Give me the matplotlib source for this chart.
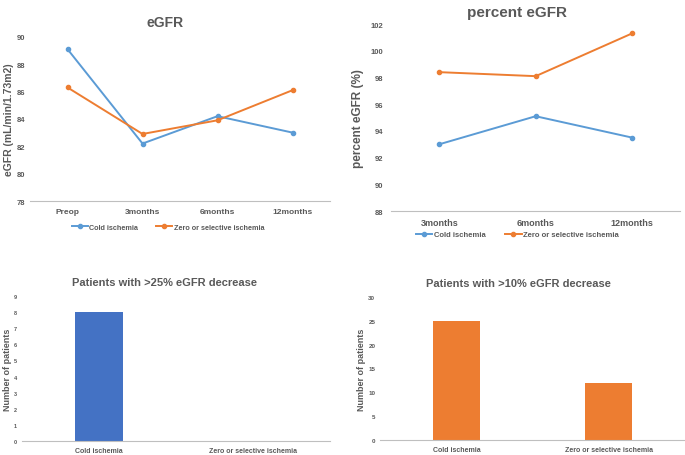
import matplotlib
matplotlib.use('Agg')
import matplotlib.pyplot as plt

plt.rcParams['font.family'] = ['Liberation Sans', 'DejaVu Sans']

# data
egfr_cats = ['Preop', '3months', '6months', '12months']
egfr_cold = [89.1, 82.2, 84.2, 83.0]
egfr_zero = [86.3, 82.9, 83.9, 86.1]

pct_cats = ['3months', '6months', '12months']
pct_cold = [93.0, 95.1, 93.5]
pct_zero = [98.4, 98.1, 101.3]

bar_cats = ['Cold ischemia', 'Zero or selective ischemia']
dec25 = [8, 0]
dec10 = [25, 12]

blue = '#5B9BD5'
orange = '#ED7D31'
darkblue = '#4472C4'
gray = '#595959'
axis_gray = '#BFBFBF'

fig = plt.figure(figsize=(6.85, 4.56), dpi=100)


def style(ax, ticksize):
    for s in ['top', 'right', 'left']:
        ax.spines[s].set_visible(False)
    ax.spines['bottom'].set_color(axis_gray)
    ax.spines['bottom'].set_linewidth(0.8)
    ax.tick_params(length=0, colors=gray, labelsize=ticksize)
    for lab in ax.get_xticklabels() + ax.get_yticklabels():
        lab.set_fontweight('bold')


def legend(ax, xc, y, size):
    leg = ax.legend(loc='upper center', bbox_to_anchor=(xc, y), ncol=2, frameon=False,
                    labelcolor=gray, handlelength=2.2, columnspacing=2.5,
                    handletextpad=0.2, prop={'weight': 'bold', 'size': size})
    return leg


# eGFR
ax1 = fig.add_axes([0.0438, 0.557, 0.438, 0.360])
x = range(len(egfr_cats))
ax1.plot(x, egfr_cold, color=blue, marker='o', ms=3, lw=1.4, label='Cold ischemia')
ax1.plot(x, egfr_zero, color=orange, marker='o', ms=3, lw=1.4, label='Zero or selective ischemia')
ax1.set_xlim(-0.5, 3.5)
ax1.set_ylim(78, 90)
ax1.set_yticks(range(78, 91, 2))
ax1.set_xticks(list(x))
ax1.set_xticklabels(egfr_cats)
style(ax1, 5.5)
ax1.tick_params(axis='x', labelsize=6, pad=5)
ax1.set_title('eGFR', fontsize=10, fontweight='bold', color=gray, pad=8, x=0.45)
ax1.set_ylabel('eGFR (mL/min/1.73m2)', fontsize=7.5, fontweight='bold', color=gray)
ax1.yaxis.set_label_coords(-0.055, 0.5)
legend(ax1, 0.46, -0.1, 5.2)

# percent eGFR
ax2 = fig.add_axes([0.571, 0.535, 0.422, 0.410])
x = range(len(pct_cats))
ax2.plot(x, pct_cold, color=blue, marker='o', ms=3, lw=1.4, label='Cold ischemia')
ax2.plot(x, pct_zero, color=orange, marker='o', ms=3, lw=1.4, label='Zero or selective ischemia')
ax2.set_xlim(-0.5, 2.5)
ax2.set_ylim(88, 102)
ax2.set_yticks(range(88, 103, 2))
ax2.set_xticks(list(x))
ax2.set_xticklabels(pct_cats)
style(ax2, 5.5)
ax2.tick_params(axis='y', pad=6)
ax2.tick_params(axis='x', labelsize=6.5, pad=5)
ax2.set_title('percent eGFR', fontsize=11, fontweight='bold', color=gray, pad=6, x=0.436)
ax2.set_ylabel('percent eGFR (%)', fontsize=8.5, fontweight='bold', color=gray, labelpad=4)
legend(ax2, 0.436, -0.07, 5.5)

# >25% decrease
ax3 = fig.add_axes([0.032, 0.0307, 0.450, 0.318])
ax3.bar(range(len(bar_cats)), dec25, width=0.31, color=darkblue)
ax3.set_xlim(-0.5, 1.5)
ax3.set_ylim(0, 9)
ax3.set_yticks(range(0, 10))
ax3.set_xticks(range(len(bar_cats)))
ax3.set_xticklabels(bar_cats)
style(ax3, 4)
ax3.tick_params(axis='x', labelsize=5, pad=4)
ax3.set_title('Patients with >25% eGFR decrease', fontsize=8, fontweight='bold', color=gray,
              pad=8, x=0.464)
ax3.set_ylabel('Number of patients', fontsize=6.5, fontweight='bold', color=gray, labelpad=1)

# >10% decrease
ax4 = fig.add_axes([0.555, 0.0329, 0.445, 0.314])
ax4.bar(range(len(bar_cats)), dec10, width=0.31, color=orange)
ax4.set_xlim(-0.5, 1.5)
ax4.set_ylim(0, 30)
ax4.set_yticks(range(0, 31, 5))
ax4.set_xticks(range(len(bar_cats)))
ax4.set_xticklabels(bar_cats)
style(ax4, 4.5)
ax4.tick_params(axis='x', labelsize=5, pad=4)
ax4.set_title('Patients with >10% eGFR decrease', fontsize=8, fontweight='bold', color=gray,
              pad=8, x=0.452)
ax4.set_ylabel('Number of patients', fontsize=6.5, fontweight='bold', color=gray, labelpad=2)

fig.savefig('out.png', dpi=100)
